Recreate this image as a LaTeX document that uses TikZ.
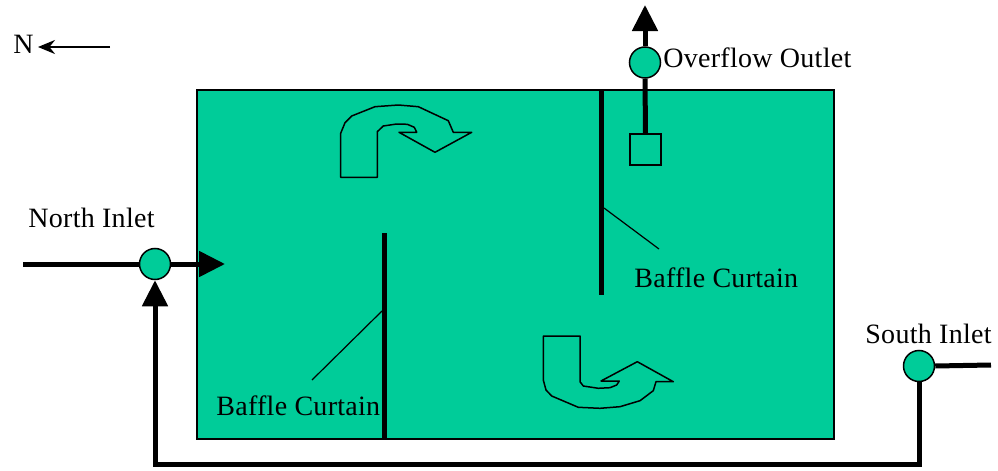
\documentclass[tikz,border=0pt]{standalone}
\usepackage{fontspec}
\setmainfont{Liberation Serif}[Ligatures=NoCommon,LetterSpace=1]
\usepackage{tikz}
\usetikzlibrary{
        arrows.meta,
        positioning
    }
\definecolor{water}{RGB}{0,204,153}
\tikzset{>={Triangle[length=13pt,width=12.5pt]},line cap=round}
\tikzset{every node/.style={font=\fontsize{14}{16.5}\selectfont}}

\begin{document}
\begin{tikzpicture}[x=0.5pt,y=-0.5pt,
                    pipe/.style={line width=2.5pt},
                    curtain/.style={line width=2.5pt},
                    leader/.style={line width=0.6pt},
                    tag/.style={anchor=base west,inner sep=0pt},
                    junction/.style={circle,draw,fill=water,line width=0.75pt,minimum size=15.5pt,inner sep=0pt},
                    bendarrow/.style={draw,fill=water,line width=0.75pt,line join=round}]
                    \useasboundingbox (0,0) rectangle (998,471);

                    % basin
                    \draw[fill=water,line width=0.75pt] (197,90) rectangle (834,439);

                    % compass
                    \node[tag] (north) at (13,54) {N};
                    \coordinate (ntail) at (110,47);
                    \coordinate (ntip) at (38,47);
                    \draw[line width=1pt,-{Stealth[length=8.5pt,width=7pt]}] (ntail) -- (ntip);

                    % inlets and outlet
                    \node[junction] (ni) at (155,264) {};
                    \node[junction] (si) at (919,366) {};
                    \node[junction] (ov) at (645,62.5) {};
                    \node[draw,fill=water,line width=0.75pt,minimum size=15.5pt,inner sep=0pt] (weir) at (645.5,149.5) {};
                    \coordinate (nifree) at (23,264);
                    \coordinate (nitip) at (225,264);
                    \coordinate (sifree) at (991,365);
                    \coordinate (loop) at (155,464);
                    \coordinate (ovtip) at (645,5);

                    \draw[pipe] (nifree) -- (ni.west);
                    \draw[pipe,->] (ni.east) -- (nitip);
                    \draw[pipe] (si.east) -- (sifree);
                    \draw[pipe,->] (si.south) |- (loop) -- (ni.south);
                    \draw[pipe] (weir.north) -- (ov.south);
                    \draw[pipe,->] (ov.north) -- (ovtip);

                    \node[tag] (nilbl) at (28,227) {North Inlet};
                    \node[tag] (silbl) at (865,343) {South Inlet};
                    \node[tag] (ovlbl) at (663,68) {Overflow Outlet};

                    % baffle curtains
                    \draw[curtain] (601,89) -- (601,295);
                    \draw[curtain] (384,233) -- (384,440);
                    \coordinate (bc1a) at (604,208);
                    \coordinate (bc1b) at (659,249);
                    \coordinate (bc2a) at (382,311);
                    \coordinate (bc2b) at (312,380);
                    \draw[leader] (bc1a) -- (bc1b);
                    \draw[leader] (bc2a) -- (bc2b);
                    \node[tag] (bc1lbl) at (634,287) {Baffle Curtain};
                    \node[tag] (bc2lbl) at (216,415) {Baffle Curtain};

                    % flow direction
                    \draw[bendarrow] (340.7,177.3) -- (340.7,133.3) -- (345,122.7) -- (351.7,116)
                        -- (375,106.7) -- (398.3,105) -- (418.3,106.7) -- (448.3,120.7)
                        -- (453.3,132.3) -- (471.7,132.3) -- (435,152.3) -- (399,132.3)
                        -- (416.7,132.3) -- (414.3,127.3) -- (407.3,124.3) -- (396.7,124)
                        -- (383.3,126) -- (377.3,131.7) -- (377.3,177.3) -- cycle;
                    \draw[bendarrow] (543.3,336) -- (580,336) -- (580,381.7) -- (583.3,386)
                        -- (598.3,388.3) -- (610,387.7) -- (616.7,385) -- (619.3,381)
                        -- (601,381) -- (637.3,361.7) -- (673.3,381.7) -- (656,381.7)
                        -- (653.3,390.7) -- (640,400.7) -- (620,406.7) -- (600,408.3)
                        -- (578.3,407.3) -- (551.7,396) -- (546,390) -- (543.3,380) -- cycle;
\end{tikzpicture}
\end{document}
